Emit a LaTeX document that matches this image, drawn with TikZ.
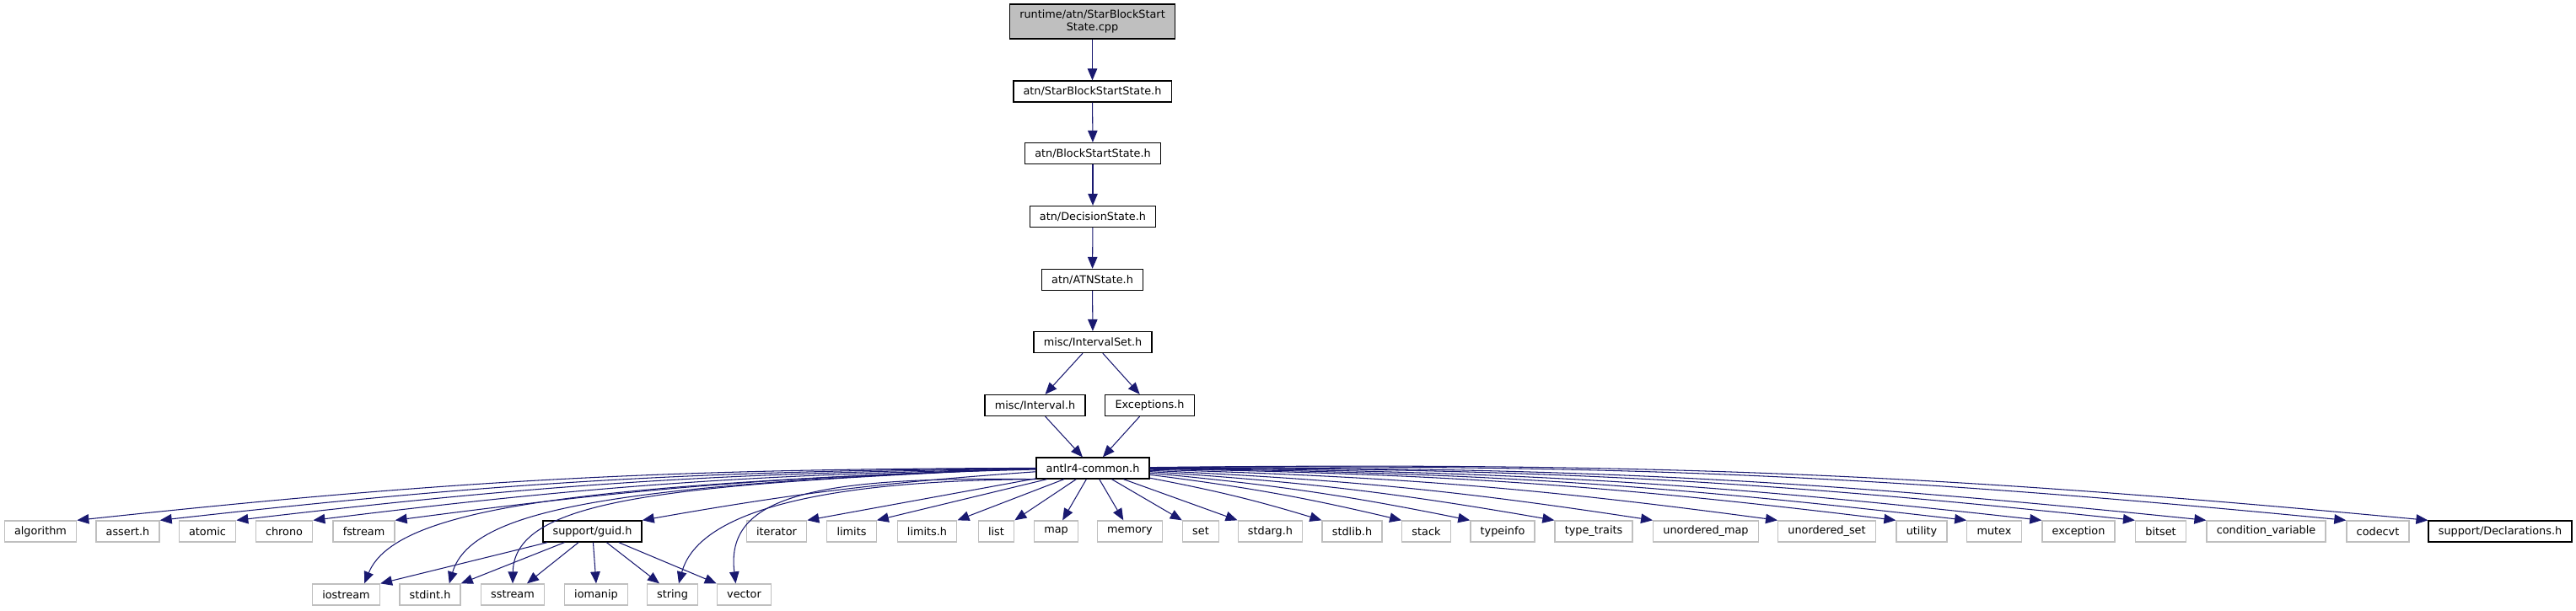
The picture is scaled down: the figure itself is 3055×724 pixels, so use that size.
\documentclass[tikz,border=0pt]{standalone}
\usepackage{fontspec}
\setmainfont{DejaVu Sans}
\usepackage[svgnames]{xcolor}
\usetikzlibrary{arrows.meta}
\definecolor{sysgray}{RGB}{191,191,191}
\tikzset{hdr/.style = {draw, fill=white, line width=0.75pt, inner xsep=0.235cm, inner ysep=0, minimum height=0.5cm, font=\fontsize{7.3}{8.3}\selectfont}}
\tikzset{sys/.style = {hdr, draw=sysgray}}
\tikzset{dep/.style = {MidnightBlue, line width=0.6pt, -{Triangle[length=0.28cm, width=0.23cm]}}}

\begin{document}
\begin{tikzpicture}[x=0.02cm, y=-0.02cm]
  \useasboundingbox (0,0) rectangle (3055,724);
  % chain down to antlr4-common.h
  \node[hdr, fill=sysgray, align=center, minimum width=3.9cm, minimum height=0.82cm] (src) at (1295.5,25.5) {runtime/atn/StarBlockStart\\State.cpp};
  \node[hdr] (sbss) at (1295.5,108.5) {atn/StarBlockStartState.h};
  \node[hdr] (bss) at (1296,182) {atn/BlockStartState.h};
  \node[hdr] (dec) at (1296,257) {atn/DecisionState.h};
  \node[hdr] (atn) at (1295.5,332) {atn/ATNState.h};
  \node[hdr] (iset) at (1296,406) {misc/IntervalSet.h};
  \node[hdr] (ival) at (1227.5,481) {misc/Interval.h};
  \node[hdr] (exc) at (1363.5,481) {Exceptions.h};
  \node[hdr] (common) at (1296,555.5) {antlr4-common.h};
  % first row
  \node[sys] (alg) at (48,630.5) {algorithm};
  \node[sys] (assrt) at (151.5,630.5) {assert.h};
  \node[sys] (atomic) at (246,630.5) {atomic};
  \node[sys] (chrono) at (337,630.5) {chrono};
  \node[sys] (fstream) at (431.5,630.5) {fstream};
  \node[hdr] (guid) at (702.5,630.5) {support/guid.h};
  \node[sys] (iter) at (921,630.5) {iterator};
  \node[sys] (limits) at (1010,630.5) {limits};
  \node[sys] (limitsh) at (1099.5,630.5) {limits.h};
  \node[sys] (list) at (1181.5,630.5) {list};
  \node[sys] (map) at (1252.5,630.5) {map};
  \node[sys] (memory) at (1340,630.5) {memory};
  \node[sys] (set) at (1424,630.5) {set};
  \node[sys] (stdarg) at (1506.5,630.5) {stdarg.h};
  \node[sys] (stdlib) at (1603.5,630.5) {stdlib.h};
  \node[sys] (stack) at (1691.5,630.5) {stack};
  \node[sys] (typeinfo) at (1782,630.5) {typeinfo};
  \node[sys] (traits) at (1890,630.5) {type\_traits};
  \node[sys] (umap) at (2023,630.5) {unordered\_map};
  \node[sys] (uset) at (2166.5,630.5) {unordered\_set};
  \node[sys] (utility) at (2279,630.5) {utility};
  \node[sys] (mutex) at (2365,630.5) {mutex};
  \node[sys] (except) at (2465,630.5) {exception};
  \node[sys] (bitset) at (2562.5,630.5) {bitset};
  \node[sys] (condvar) at (2687.5,630.5) {condition\_variable};
  \node[sys] (codecvt) at (2820,630.5) {codecvt};
  \node[hdr] (decl) at (2965,630.5) {support/Declarations.h};
  % second row
  \node[sys] (iostream) at (410.5,705.5) {iostream};
  \node[sys] (stdint) at (510,705.5) {stdint.h};
  \node[sys] (sstream) at (608,705.5) {sstream};
  \node[sys] (iomanip) at (707,705.5) {iomanip};
  \node[sys] (string) at (797.5,705.5) {string};
  \node[sys] (vector) at (882.5,705.5) {vector};

  \foreach \a/\b in {src/sbss, sbss/bss, bss/dec, dec/atn, atn/iset, iset/ival, iset/exc, ival/common, exc/common}
    \draw[dep] (\a) -- (\b);
  % fan out of antlr4-common.h
  \foreach \t in {alg, assrt, atomic, chrono, fstream, guid}
    \draw[dep] (common) to[bend right=3] (\t.north east);
  \foreach \t in {iter, limits, limitsh, list}
    \draw[dep] (common) -- (\t.north east);
  \draw[dep] (common) -- (map);
  \draw[dep] (common) -- (memory);
  \draw[dep] (common) -- (set.north west);
  \draw[dep] (common) -- (stdarg.north west);
  \foreach \t in {stdlib, stack, typeinfo, traits, umap, uset, utility, mutex, except, bitset, condvar, codecvt, decl}
    \draw[dep] (common) to[bend left=3] (\t.north west);
  \draw[dep] (common.west) .. controls (700,575) and (470,600) .. ([xshift=-0.38cm]iostream.north east);
  \draw[dep] (common.west) .. controls (750,575) and (560,600) .. ([xshift=-0.28cm]stdint.north east);
  \draw[dep] (common.west) .. controls (800,575) and (610,590) .. (sstream.north);
  \draw[dep] (common.south west) .. controls (1000,570) and (830,600) .. ([xshift=0.15cm]string.north);
  \draw[dep] (common.south west) .. controls (960,565) and (860,590) .. ([xshift=-0.2cm]vector.north);
  % support/guid.h
  \foreach \t/\a in {iostream/north east, stdint/north east, iomanip/north, vector/north west}
    \draw[dep] (guid) -- (\t.\a);
  \draw[dep] (guid) -- ([xshift=0.34cm]sstream.north);
  \draw[dep] (guid) -- ([xshift=-0.31cm]string.north);
\end{tikzpicture}
\end{document}
